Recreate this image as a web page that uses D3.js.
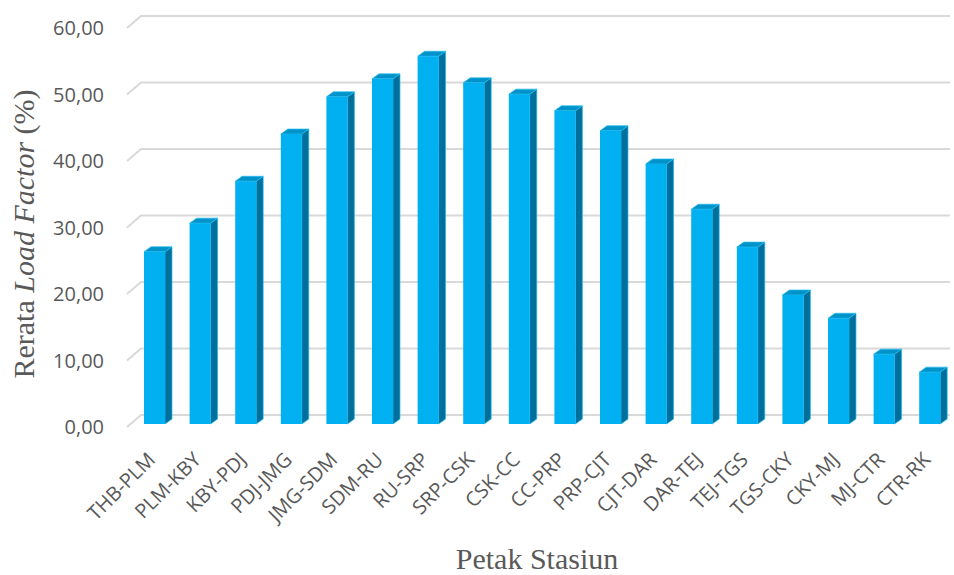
<!DOCTYPE html>
<html>
<head>
<meta charset="utf-8">
<script src="https://cdn.jsdelivr.net/npm/d3@7"></script>
<style>
  html, body { margin: 0; padding: 0; background: #ffffff; }
  svg { display: block; }
</style>
</head>
<body>
<svg id="chart" width="954" height="575"></svg>
<script>
// Station segments (petak) along the line
const categories = ["THB-PLM", "PLM-KBY", "KBY-PDJ", "PDJ-JMG", "JMG-SDM", "SDM-RU", "RU-SRP",
  "SRP-CSK", "CSK-CC", "CC-PRP", "PRP-CJT", "CJT-DAR", "DAR-TEJ", "TEJ-TGS", "TGS-CKY",
  "CKY-MJ", "MJ-CTR", "CTR-RK"];
// Average load factor per segment (%)
const loadFactor = [25.9, 30.2, 36.5, 43.6, 49.2, 51.9, 55.3, 51.3, 49.6, 47.1, 44.1, 39.1,
  32.3, 26.6, 19.4, 15.9, 10.5, 7.8];
// Value-axis ticks
const yTicks = [0, 10, 20, 30, 40, 50, 60];

const svg = d3.select("#chart");

const x = d3.scaleBand()
  .domain(categories)
  .range([131.7, 952.5])
  .paddingInner(0.54)
  .paddingOuter(0.27);

const y = d3.scaleLinear().domain([0, 60]).range([424, 25]);

// 3-D depth offsets
const depth = { dx: 7, dy: -5 };
const wall = { front: 3, back: -9, x0: 127, x1: 141, xEnd: 950 };

const fmt = v => d3.format(".2f")(v).replace(".", ",");

// Gridlines: short floor diagonal, then along the back wall
const grid = svg.append("g");
yTicks.forEach(v => {
  grid.append("path")
    .attr("d", `M${wall.x0},${y(v) + wall.front}L${wall.x1},${y(v) + wall.back}L${wall.xEnd},${y(v) + wall.back}`)
    .attr("fill", "none")
    .attr("stroke", "#d9d9d9")
    .attr("stroke-width", 2);
});

// Value-axis labels
svg.append("g").selectAll("text")
  .data(yTicks)
  .join("text")
  .attr("x", 104)
  .attr("y", d => y(d) + wall.front)
  .attr("dy", "0.35em")
  .attr("text-anchor", "end")
  .attr("font-family", "'Open Sans', sans-serif")
  .attr("font-size", 20)
  .attr("fill", "#595959")
  .text(d => fmt(d));

// 3-D columns
const bars = svg.append("g").selectAll("g")
  .data(categories.map((c, i) => ({ c, v: loadFactor[i] })))
  .join("g");

bars.append("path") // side face
  .attr("d", d => {
    const x1 = x(d.c) + x.bandwidth(), yt = y(d.v), yb = y(0);
    return `M${x1},${yt}L${x1 + depth.dx},${yt + depth.dy}L${x1 + depth.dx},${yb + depth.dy}L${x1},${yb}Z`;
  })
  .attr("fill", "#006f9c")
  .attr("stroke", "#22bdf2")
  .attr("stroke-width", 0.7);

bars.append("path") // top face
  .attr("d", d => {
    const x0 = x(d.c), x1 = x0 + x.bandwidth(), yt = y(d.v);
    return `M${x0},${yt}L${x0 + depth.dx},${yt + depth.dy}L${x1 + depth.dx},${yt + depth.dy}L${x1},${yt}Z`;
  })
  .attr("fill", "#0093c9")
  .attr("stroke", "#22bdf2")
  .attr("stroke-width", 0.7);

bars.append("rect") // front face
  .attr("x", d => x(d.c))
  .attr("y", d => y(d.v))
  .attr("width", x.bandwidth())
  .attr("height", d => y(0) - y(d.v))
  .attr("fill", "#00b0f0");

// Category labels, rotated
svg.append("g").selectAll("text")
  .data(categories)
  .join("text")
  .attr("transform", d => `translate(${x(d) + x.bandwidth() / 2 - 3},${456}) rotate(-45)`)
  .attr("text-anchor", "end")
  .attr("dy", "0.35em")
  .attr("font-family", "'Open Sans', sans-serif")
  .attr("font-size", 20)
  .attr("fill", "#595959")
  .text(d => d);

// Axis titles
const yTitle = svg.append("text")
  .attr("transform", "translate(34,234) rotate(-90)")
  .attr("text-anchor", "middle")
  .attr("font-family", "'Liberation Serif', 'Times New Roman', serif")
  .attr("font-size", 30)
  .attr("fill", "#595959");
yTitle.append("tspan").text("Rerata ");
yTitle.append("tspan").attr("font-style", "italic").text("Load Factor");
yTitle.append("tspan").text(" (%)");

svg.append("text")
  .attr("x", 537)
  .attr("y", 569)
  .attr("text-anchor", "middle")
  .attr("font-family", "'Liberation Serif', 'Times New Roman', serif")
  .attr("font-size", 30)
  .attr("fill", "#595959")
  .text("Petak Stasiun");
</script>
</body>
</html>
